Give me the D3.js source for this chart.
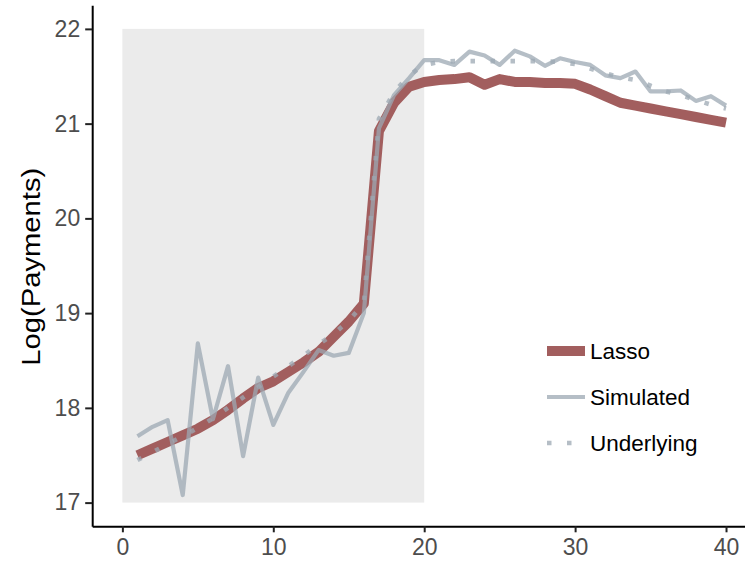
<!DOCTYPE html>
<html>
<head>
<meta charset="utf-8">
<script src="https://cdn.jsdelivr.net/npm/d3@7"></script>
<style>
  html, body { margin: 0; padding: 0; background: #ffffff; }
  svg { display: block; font-family: "Liberation Sans", Arial, sans-serif; }
</style>
</head>
<body>
<svg id="chart" width="745" height="564"></svg>
<script>
// Development periods
const periods = d3.range(1, 41);

// Log payments per period for each series
const lasso = [
  17.50, 17.57, 17.64, 17.71, 17.78, 17.87, 17.98, 18.10, 18.21, 18.28,
  18.38, 18.48, 18.59, 18.75, 18.91, 19.10, 20.92, 21.22, 21.39, 21.44,
  21.46, 21.47, 21.49, 21.41, 21.47, 21.44, 21.44, 21.43, 21.43, 21.42,
  21.36, 21.29, 21.22, 21.19, 21.16, 21.13, 21.10, 21.07, 21.04, 21.01
];
const simulated = [
  17.70, 17.80, 17.87, 17.08, 18.68, 17.88, 18.44, 17.49, 18.32, 17.82,
  18.16, 18.38, 18.61, 18.55, 18.58, 19.00, 20.95, 21.30, 21.48, 21.67,
  21.67, 21.62, 21.76, 21.72, 21.62, 21.77, 21.71, 21.61, 21.69, 21.65,
  21.62, 21.51, 21.48, 21.55, 21.34, 21.34, 21.35, 21.24, 21.29, 21.19
];
const underlying = [
  17.45, 17.53, 17.62, 17.70, 17.79, 17.89, 18.00, 18.11, 18.22, 18.33,
  18.44, 18.55, 18.67, 18.78, 18.92, 19.10, 21.05, 21.33, 21.51, 21.62,
  21.65, 21.66, 21.66, 21.66, 21.66, 21.66, 21.66, 21.66, 21.65, 21.63,
  21.58, 21.53, 21.49, 21.46, 21.40, 21.34, 21.30, 21.25, 21.20, 21.16
];

// Axis ticks and the shaded fitting window
const xTicks = [0, 10, 20, 30, 40];
const yTicks = [17, 18, 19, 20, 21, 22];
const windowX = [0, 20];
const windowY = [17, 22];

const seriesNames = ["Lasso", "Simulated", "Underlying"];

const svg = d3.select("#chart");

const x = d3.scaleLinear().domain([-2, 42]).range([92.2, 756.2]);
const y = d3.scaleLinear().domain([16.75, 22.25]).range([526.3, 5.2]);

// Shaded window
svg.append("rect")
  .attr("x", x(windowX[0]))
  .attr("y", y(windowY[1]))
  .attr("width", x(windowX[1]) - x(windowX[0]))
  .attr("height", y(windowY[0]) - y(windowY[1]))
  .attr("fill", "#ebebeb");

// Series styles
const styles = {
  Lasso:      { color: "#9f5959", width: 10, dash: null, opacity: 0.97 },
  Simulated:  { color: "#9ca8b3", width: 4.2, dash: null, opacity: 0.75 },
  Underlying: { color: "#9ca8b3", width: 4.6, dash: "4.5,15.5", opacity: 0.75 }
};

const seriesData = {
  Lasso: lasso,
  Simulated: simulated,
  Underlying: underlying
};

const line = d3.line()
  .x((d, i) => x(periods[i]))
  .y(d => y(d));

seriesNames.forEach(name => {
  const s = styles[name];
  svg.append("path")
    .datum(seriesData[name])
    .attr("d", line)
    .attr("fill", "none")
    .attr("stroke", s.color)
    .attr("stroke-width", s.width)
    .attr("stroke-opacity", s.opacity)
    .attr("stroke-linejoin", "round")
    .attr("stroke-linecap", "butt")
    .attr("stroke-dasharray", s.dash);
});

// Axes
const xAxis = svg.append("g")
  .attr("transform", `translate(0,${y.range()[0]})`)
  .call(d3.axisBottom(x).tickValues(xTicks).tickFormat(d3.format("d"))
    .tickSize(6).tickSizeOuter(0).tickPadding(6));
const yAxis = svg.append("g")
  .attr("transform", `translate(${x.range()[0]},0)`)
  .call(d3.axisLeft(y).tickValues(yTicks).tickFormat(d3.format("d"))
    .tickSize(7).tickSizeOuter(0).tickPadding(5));

[xAxis, yAxis].forEach(g => {
  g.select(".domain").attr("stroke", "#000").attr("stroke-width", 2);
  g.selectAll(".tick line").attr("stroke", "#222").attr("stroke-width", 2);
  g.selectAll(".tick text")
    .attr("fill", "#4d4d4d")
    .style("font-family", "'Liberation Sans', Arial, sans-serif")
    .style("font-size", "23px");
});

// Y axis title
svg.append("text")
  .attr("transform", `translate(40,${(y(22.25) + y(16.75)) / 2 + 1}) rotate(-90)`)
  .attr("text-anchor", "middle")
  .attr("fill", "#000")
  .attr("textLength", 198)
  .attr("lengthAdjust", "spacingAndGlyphs")
  .style("font-size", "26px")
  .text("Log(Payments)");

// Legend
const legend = svg.append("g").attr("transform", "translate(547,351)");
seriesNames.forEach((name, i) => {
  const s = styles[name];
  const row = legend.append("g").attr("transform", `translate(0,${i * 46})`);
  row.append("line")
    .attr("x1", 0).attr("x2", 38)
    .attr("y1", 0).attr("y2", 0)
    .attr("stroke", s.color)
    .attr("stroke-width", s.width)
    .attr("stroke-opacity", s.opacity)
    .attr("stroke-dasharray", s.dash);
  row.append("text")
    .attr("x", 43)
    .attr("y", 0)
    .attr("dy", "0.36em")
    .attr("fill", "#000")
    .style("font-size", "22.5px")
    .text(name);
});
</script>
</body>
</html>
